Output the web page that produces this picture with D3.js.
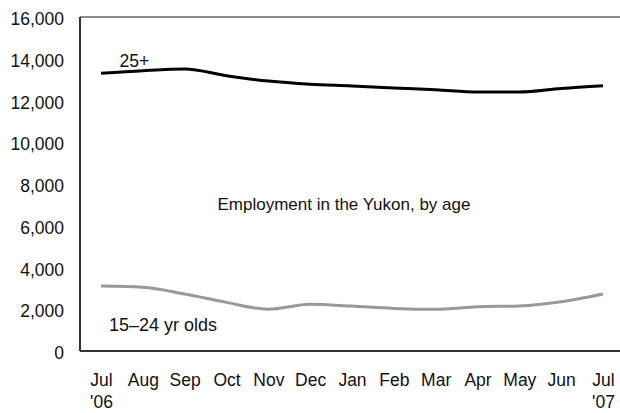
<!DOCTYPE html>
<html><head><meta charset="utf-8">
<script src="https://cdn.jsdelivr.net/npm/d3@7"></script>
<style>
html,body{margin:0;padding:0;background:#fff;}
text{font-family:"Liberation Sans",Arial,sans-serif;fill:#111;}
</style></head>
<body><svg id="c" width="620" height="413"></svg>
<script>
const months = ["Jul","Aug","Sep","Oct","Nov","Dec","Jan","Feb","Mar","Apr","May","Jun","Jul"];
const yearLabels = ["'06","","","","","","","","","","","","'07"];
const adults = [13300,13430,13510,13190,12930,12780,12700,12600,12520,12410,12410,12580,12710];
const youth = [3110,3050,2730,2330,2000,2240,2150,2040,2000,2120,2160,2360,2730];
const yTicks = [0,2000,4000,6000,8000,10000,12000,14000,16000];

const svg = d3.select("#c");
const plotL = 80, plotT = 17, plotB = 351, plotR = 620;
const x = d3.scalePoint().domain(d3.range(months.length)).range([101, 603]);
const y = d3.scaleLinear().domain([0,16000]).range([plotB, plotT]);

// frame
svg.append("line").attr("x1",plotL).attr("x2",plotR).attr("y1",plotT).attr("y2",plotT)
  .attr("stroke","#666").attr("stroke-width",1.5);
svg.append("line").attr("x1",plotL).attr("x2",plotR).attr("y1",plotB).attr("y2",plotB)
  .attr("stroke","#333").attr("stroke-width",2);
svg.append("line").attr("x1",plotL).attr("x2",plotL).attr("y1",plotT).attr("y2",plotB)
  .attr("stroke","#333").attr("stroke-width",2);

// y axis labels
const yAxis = d3.axisLeft(y).tickValues(yTicks).tickSize(0).tickPadding(0)
  .tickFormat(d => d3.format(",")(d));
const ya = svg.append("g").attr("transform","translate(64,2)").call(yAxis);
ya.select(".domain").remove();
ya.selectAll("text").attr("font-size",17.5).attr("fill","#111")
  .attr("font-family","Liberation Sans, Arial, sans-serif");

// x axis labels
const xAxis = d3.axisBottom(x).tickSize(0).tickPadding(0).tickFormat(i => months[i]);
const xa = svg.append("g").attr("transform","translate(0,380)").call(xAxis);
xa.select(".domain").remove();
xa.selectAll("text").attr("font-size",17.5).attr("fill","#111")
  .attr("font-family","Liberation Sans, Arial, sans-serif").attr("dy","0.35em");
xa.selectAll(".tick").append("text").text(i => yearLabels[i])
  .attr("y",21.5).attr("dy","0.35em").attr("text-anchor","middle")
  .attr("font-size",17.5).attr("fill","#111")
  .attr("font-family","Liberation Sans, Arial, sans-serif");

const line = d3.line().x((d,i) => x(i)).y(d => y(d)).curve(d3.curveMonotoneX);
svg.append("path").datum(youth).attr("d",line).attr("fill","none")
  .attr("stroke","#999").attr("stroke-width",3);
svg.append("path").datum(adults).attr("d",line).attr("fill","none")
  .attr("stroke","#000").attr("stroke-width",3);

svg.append("text").attr("x",119.5).attr("y",67.3).attr("font-size",17.5).text("25+");
svg.append("text").attr("x",109).attr("y",330.7).attr("font-size",18).text("15–24 yr olds");
svg.append("text").attr("x",217.5).attr("y",210).attr("font-size",17).text("Employment in the Yukon, by age");
</script></body></html>
